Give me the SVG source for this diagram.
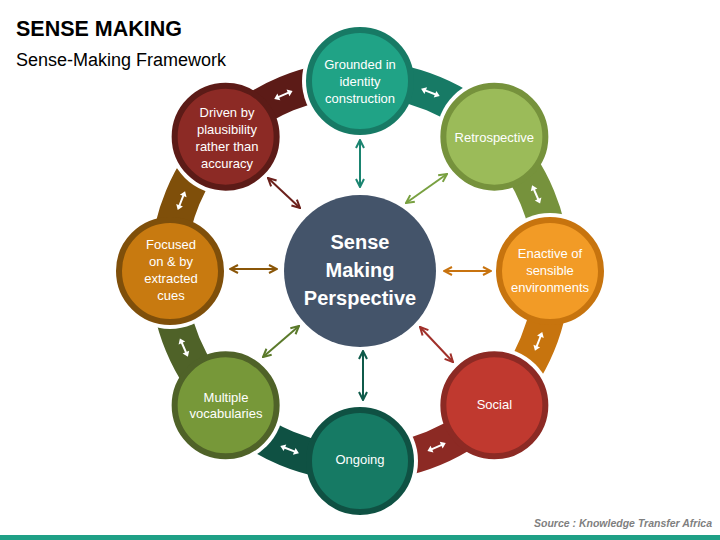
<svg xmlns="http://www.w3.org/2000/svg" width="720" height="540" viewBox="0 0 720 540">
<style>
.t{font-family:"Liberation Sans",Arial,sans-serif;fill:#fff;font-size:13px;text-anchor:middle}
.c{font-family:"Liberation Sans",Arial,sans-serif;fill:#fff;font-size:20px;font-weight:bold;text-anchor:middle}
.sp{fill:none;stroke-width:2}
.nd{stroke-width:6}
</style>
<defs>
<path id="wa" d="M-10,0 L-5,-3.6 L-5,-1 L5,-1 L5,-3.6 L10,0 L5,3.6 L5,1 L-5,1 L-5,3.6 Z" fill="#fff"/>
<marker id="a0" viewBox="0 0 10 10" refX="9" refY="5" markerWidth="10" markerHeight="10" markerUnits="userSpaceOnUse" orient="auto-start-reverse"><path d="M1,1 L9,5 L1,9" fill="none" stroke="#1a8470" stroke-width="2"/></marker>
<marker id="a1" viewBox="0 0 10 10" refX="9" refY="5" markerWidth="10" markerHeight="10" markerUnits="userSpaceOnUse" orient="auto-start-reverse"><path d="M1,1 L9,5 L1,9" fill="none" stroke="#78a040" stroke-width="2"/></marker>
<marker id="a2" viewBox="0 0 10 10" refX="9" refY="5" markerWidth="10" markerHeight="10" markerUnits="userSpaceOnUse" orient="auto-start-reverse"><path d="M1,1 L9,5 L1,9" fill="none" stroke="#c8730f" stroke-width="2"/></marker>
<marker id="a3" viewBox="0 0 10 10" refX="9" refY="5" markerWidth="10" markerHeight="10" markerUnits="userSpaceOnUse" orient="auto-start-reverse"><path d="M1,1 L9,5 L1,9" fill="none" stroke="#a0302a" stroke-width="2"/></marker>
<marker id="a4" viewBox="0 0 10 10" refX="9" refY="5" markerWidth="10" markerHeight="10" markerUnits="userSpaceOnUse" orient="auto-start-reverse"><path d="M1,1 L9,5 L1,9" fill="none" stroke="#0f5a4a" stroke-width="2"/></marker>
<marker id="a5" viewBox="0 0 10 10" refX="9" refY="5" markerWidth="10" markerHeight="10" markerUnits="userSpaceOnUse" orient="auto-start-reverse"><path d="M1,1 L9,5 L1,9" fill="none" stroke="#5b7a2b" stroke-width="2"/></marker>
<marker id="a6" viewBox="0 0 10 10" refX="9" refY="5" markerWidth="10" markerHeight="10" markerUnits="userSpaceOnUse" orient="auto-start-reverse"><path d="M1,1 L9,5 L1,9" fill="none" stroke="#8a5608" stroke-width="2"/></marker>
<marker id="a7" viewBox="0 0 10 10" refX="9" refY="5" markerWidth="10" markerHeight="10" markerUnits="userSpaceOnUse" orient="auto-start-reverse"><path d="M1,1 L9,5 L1,9" fill="none" stroke="#6b201b" stroke-width="2"/></marker>
<mask id="m0" maskUnits="userSpaceOnUse" x="0" y="0" width="720" height="540"><rect width="720" height="540" fill="#fff"/><circle cx="494.35" cy="136.65" r="58" fill="#000"/></mask>
<mask id="m1" maskUnits="userSpaceOnUse" x="0" y="0" width="720" height="540"><rect width="720" height="540" fill="#fff"/><circle cx="550" cy="271" r="58" fill="#000"/></mask>
<mask id="m2" maskUnits="userSpaceOnUse" x="0" y="0" width="720" height="540"><rect width="720" height="540" fill="#fff"/><circle cx="494.35" cy="405.35" r="58" fill="#000"/></mask>
<mask id="m3" maskUnits="userSpaceOnUse" x="0" y="0" width="720" height="540"><rect width="720" height="540" fill="#fff"/><circle cx="360" cy="461" r="58" fill="#000"/></mask>
<mask id="m4" maskUnits="userSpaceOnUse" x="0" y="0" width="720" height="540"><rect width="720" height="540" fill="#fff"/><circle cx="225.65" cy="405.35" r="58" fill="#000"/></mask>
<mask id="m5" maskUnits="userSpaceOnUse" x="0" y="0" width="720" height="540"><rect width="720" height="540" fill="#fff"/><circle cx="170" cy="271" r="58" fill="#000"/></mask>
<mask id="m6" maskUnits="userSpaceOnUse" x="0" y="0" width="720" height="540"><rect width="720" height="540" fill="#fff"/><circle cx="225.65" cy="136.65" r="58" fill="#000"/></mask>
<mask id="m7" maskUnits="userSpaceOnUse" x="0" y="0" width="720" height="540"><rect width="720" height="540" fill="#fff"/><circle cx="360" cy="81" r="58" fill="#000"/></mask>
</defs>
<rect width="720" height="540" fill="#fff"/>
<g id="title">
<text x="16" y="36" font-family="Liberation Sans, Arial, sans-serif" font-size="21.5" font-weight="bold" fill="#000">SENSE MAKING</text>
<text x="16" y="66" font-family="Liberation Sans, Arial, sans-serif" font-size="18" fill="#000">Sense-Making Framework</text>
</g>
<g id="connectors">
<g id="ring-bands">
<path d="M360,61 A210,210 0 0 1 508.49,122.51 L483.04,147.96 A174,174 0 0 0 360,97 Z" fill="#177a65" mask="url(#m0)"/>
<path d="M508.49,122.51 A210,210 0 0 1 570,271 L534,271 A174,174 0 0 0 483.04,147.96 Z" fill="#76923c" mask="url(#m1)"/>
<path d="M570,271 A210,210 0 0 1 508.49,419.49 L483.04,394.04 A174,174 0 0 0 534,271 Z" fill="#c7740e" mask="url(#m2)"/>
<path d="M508.49,419.49 A210,210 0 0 1 360,481 L360,445 A174,174 0 0 0 483.04,394.04 Z" fill="#8c2a24" mask="url(#m3)"/>
<path d="M360,481 A210,210 0 0 1 211.51,419.49 L236.96,394.04 A174,174 0 0 0 360,445 Z" fill="#0f5143" mask="url(#m4)"/>
<path d="M211.51,419.49 A210,210 0 0 1 150,271 L186,271 A174,174 0 0 0 236.96,394.04 Z" fill="#4f6228" mask="url(#m5)"/>
<path d="M150,271 A210,210 0 0 1 211.51,122.51 L236.96,147.96 A174,174 0 0 0 186,271 Z" fill="#7f4f0a" mask="url(#m6)"/>
<path d="M211.51,122.51 A210,210 0 0 1 360,61 L360,97 A174,174 0 0 0 236.96,147.96 Z" fill="#5c1b17" mask="url(#m7)"/>
<use href="#wa" transform="translate(430.4,92.4) rotate(21.5)"/>
<use href="#wa" transform="translate(536.1,194.4) rotate(66.5)"/>
<use href="#wa" transform="translate(538.6,341.4) rotate(111.5)"/>
<use href="#wa" transform="translate(436.6,447.1) rotate(156.5)"/>
<use href="#wa" transform="translate(289.6,449.6) rotate(201.5)"/>
<use href="#wa" transform="translate(183.9,347.6) rotate(246.5)"/>
<use href="#wa" transform="translate(181.4,200.6) rotate(291.5)"/>
<use href="#wa" transform="translate(283.4,94.9) rotate(336.5)"/>
</g>
<g id="spokes">
<path class="sp" d="M360,140 L360,187" stroke="#1a8470" marker-start="url(#a0)" marker-end="url(#a0)"/>
<path class="sp" d="M447,174 L406,203" stroke="#78a040" marker-start="url(#a1)" marker-end="url(#a1)"/>
<path class="sp" d="M491,271 L444,271" stroke="#c8730f" marker-start="url(#a2)" marker-end="url(#a2)"/>
<path class="sp" d="M453,362 L420,327" stroke="#a0302a" marker-start="url(#a3)" marker-end="url(#a3)"/>
<path class="sp" d="M363,400 L363,351" stroke="#0f5a4a" marker-start="url(#a4)" marker-end="url(#a4)"/>
<path class="sp" d="M263,357 L299,326" stroke="#5b7a2b" marker-start="url(#a5)" marker-end="url(#a5)"/>
<path class="sp" d="M230,269 L277,269" stroke="#8a5608" marker-start="url(#a6)" marker-end="url(#a6)"/>
<path class="sp" d="M268,178 L300,208" stroke="#6b201b" marker-start="url(#a7)" marker-end="url(#a7)"/>
</g>
</g>
<g id="center">
<circle cx="360" cy="271" r="76" fill="#44546a"/>
<text class="c" x="360" y="249">Sense</text>
<text class="c" x="360" y="277">Making</text>
<text class="c" x="360" y="305">Perspective</text>
</g>
<g id="grounded">
<circle class="nd" cx="360" cy="81" r="51" fill="#20a386" stroke="#177a65"/>
<text class="t" x="360" y="68.5">Grounded in</text>
<text class="t" x="360" y="85.5">identity</text>
<text class="t" x="360" y="102.5">construction</text>
</g>
<g id="retrospective">
<circle class="nd" cx="494.35" cy="136.65" r="51" fill="#9bbb59" stroke="#76923c"/>
<text class="t" x="494.35" y="141.5">Retrospective</text>
</g>
<g id="enactive">
<circle class="nd" cx="550" cy="271" r="51" fill="#f29b26" stroke="#c7740e"/>
<text class="t" x="550" y="258">Enactive of</text>
<text class="t" x="550" y="275">sensible</text>
<text class="t" x="550" y="292">environments</text>
</g>
<g id="social">
<circle class="nd" cx="494.35" cy="405.35" r="51" fill="#c0392f" stroke="#8c2a24"/>
<text class="t" x="494.35" y="409">Social</text>
</g>
<g id="ongoing">
<circle class="nd" cx="360" cy="461" r="51" fill="#167a64" stroke="#0f5143"/>
<text class="t" x="360" y="464">Ongoing</text>
</g>
<g id="multiple">
<circle class="nd" cx="225.65" cy="405.35" r="51" fill="#779839" stroke="#4f6228"/>
<text class="t" x="226" y="401.5">Multiple</text>
<text class="t" x="226" y="418">vocabularies</text>
</g>
<g id="focused">
<circle class="nd" cx="170" cy="271" r="51" fill="#c87a10" stroke="#7f4f0a"/>
<text class="t" x="171" y="248.5">Focused</text>
<text class="t" x="171" y="265.5">on &amp; by</text>
<text class="t" x="171" y="282.5">extracted</text>
<text class="t" x="171" y="299.5">cues</text>
</g>
<g id="driven">
<circle class="nd" cx="225.65" cy="136.65" r="51" fill="#8c2a25" stroke="#5c1b17"/>
<text class="t" x="227" y="116.5">Driven by</text>
<text class="t" x="227" y="133.5">plausibility</text>
<text class="t" x="227" y="150.5">rather than</text>
<text class="t" x="227" y="167.5">accuracy</text>
</g>
<g id="footer">
<text x="712" y="527" text-anchor="end" font-family="Liberation Sans, Arial, sans-serif" font-size="10.5" font-weight="bold" font-style="italic" fill="#7f7f7f">Source : Knowledge Transfer Africa</text>
<rect x="0" y="535" width="720" height="5" fill="#1fa086"/>
</g>
</svg>
